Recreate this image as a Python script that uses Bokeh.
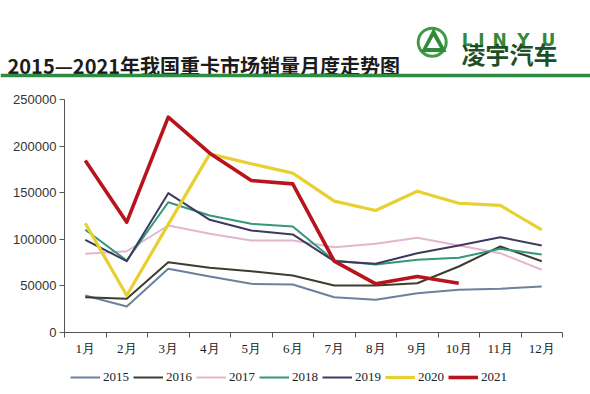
from bokeh.plotting import figure
from bokeh.models import (Range1d, FixedTicker, NumeralTickFormatter, Legend, LegendItem)
from bokeh.core.properties import value
from bokeh.embed import file_html
from bokeh.resources import INLINE

# ---------------- data ----------------
months = list(range(1, 13))
month_labels = ["1月", "2月", "3月", "4月", "5月", "6月", "7月", "8月", "9月", "10月", "11月", "12月"]
y_ticks = [0, 50000, 100000, 150000, 200000, 250000]

s2015 = [39700, 27900, 68300, 60100, 52200, 51500, 37900, 35100, 42200, 45800, 46900, 49400]
s2016 = [37900, 36100, 75400, 69400, 65800, 61100, 50400, 50400, 52900, 70800, 92300, 76500]
s2017 = [84400, 87200, 114800, 105900, 98700, 98700, 91500, 95200, 101600, 93400, 85100, 67300]
s2018 = [110200, 77200, 139800, 125500, 116600, 113700, 77200, 73000, 78000, 80100, 89800, 83700]
s2019 = [99500, 76500, 149500, 120900, 109400, 105200, 76500, 73700, 85100, 93400, 102300, 93400]
s2020 = [117300, 39700, 116000, 191700, 181000, 171000, 140900, 130900, 151600, 138700, 136300, 110200]
s2021 = [184600, 118400, 231000, 192400, 163100, 159500, 76500, 52200, 60100, 52900]

series_names = ["2015", "2016", "2017", "2018", "2019", "2020", "2021"]
series_values = [s2015, s2016, s2017, s2018, s2019, s2020, s2021]
series_colors = ["#6b819c", "#3b3d2f", "#e2b6cd", "#33977a", "#3e3a5e", "#e8d030", "#b8141d"]
series_widths = [2, 2, 2, 2, 2, 3.2, 3.6]

title_text = "2015—2021年我国重卡市场销量月度走势图"
brand_en = ["L", "I", "N", "Y", "U"]
brand_cn = "凌宇汽车"

# ---------------- layout geometry (page pixels) ----------------
W, H = 590, 394
FL, FR, FT, FB = 64, 562, 99, 332          # where the axes sit
XMIN, XMAX, YMIN, YMAX = 0.5, 12.5, 0, 250000
PX_X = (FR - FL) / (XMAX - XMIN)
PX_Y = (FB - FT) / (YMAX - YMIN)


def dx(fx):
    return XMIN + (fx - FL) / PX_X


def dy(fy):
    return YMIN + (FB - fy) / PX_Y


p = figure(width=W, height=H, x_range=Range1d(dx(0), dx(W)), y_range=Range1d(dy(H), dy(0)),
           output_backend="svg", toolbar_location=None, min_border=0,
           outline_line_color=None)
p.grid.visible = False

renderers = []
for name, vals, col, lw in zip(series_names, series_values, series_colors, series_widths):
    r = p.line(months[:len(vals)], vals, line_color=col, line_width=lw, line_join="round")
    renderers.append((name, r))

xa = p.xaxis[0]
xa.fixed_location = YMIN
xa.bounds = (XMIN, XMAX)
xa.ticker = FixedTicker(ticks=months, minor_ticks=[m - 0.5 for m in months] + [12.5])
xa.major_label_overrides = {m: lab for m, lab in zip(months, month_labels)}
xa.major_tick_line_color = None
xa.major_tick_out = 5
xa.major_tick_in = 0
xa.minor_tick_out = 5
xa.minor_tick_in = 0
xa.minor_tick_line_color = "#555555"
xa.axis_line_color = "#555555"
xa.major_label_standoff = 3
xa.major_label_text_font = "Liberation Serif"
xa.major_label_text_font_size = "13px"
xa.major_label_text_color = "#222222"

ya = p.yaxis[0]
ya.fixed_location = XMIN
ya.bounds = (YMIN, YMAX)
ya.ticker = FixedTicker(ticks=y_ticks, minor_ticks=[])
ya.formatter = NumeralTickFormatter(format="0")
ya.major_tick_out = 5
ya.major_tick_in = 0
ya.major_tick_line_color = "#555555"
ya.axis_line_color = "#555555"
ya.major_label_standoff = 3
ya.major_label_text_font = "Liberation Sans"
ya.major_label_text_font_size = "13px"
ya.major_label_text_color = "#333333"

legend = Legend(items=[LegendItem(label=n, renderers=[r]) for n, r in renderers],
                orientation="horizontal", location=(70, H - 385),
                label_text_font="Liberation Serif", label_text_font_size="13px",
                label_text_color="#222222",
                glyph_width=30, glyph_height=16, label_standoff=3, spacing=4,
                padding=0, margin=0, border_line_color=None, background_fill_alpha=0)
p.add_layout(legend, "center")

# ---------------- header: title, green rule, logo ----------------
p.text(x=[dx(7)], y=[dy(65)], text=[title_text], text_font=value("Noto Sans CJK SC"),
       text_font_size="20px", text_font_style="bold", text_color="#1c1c1c",
       text_baseline="alphabetic", text_align="left")

p.quad(left=[dx(0)], right=[dx(W)], top=[dy(73.3)], bottom=[dy(76.8)],
       fill_color="#2e8b43", line_color=None)

p.scatter(x=[dx(431.7)], y=[dy(41.7)], marker="circle", size=28, fill_color=None,
          line_color="#3f9b45", line_width=3)
p.patch(x=[dx(433), dx(420.5), dx(446)], y=[dy(27.5), dy(51.5), dy(51.5)],
        fill_color="#2f8a3a", line_color=None)
p.patch(x=[dx(433), dx(426.5), dx(439.5)], y=[dy(36), dy(47.5), dy(47.5)],
        fill_color="white", line_color=None)

p.text(x=[dx(v) for v in [466.7, 481, 499, 523, 548]], y=[dy(39)] * 5, text=brand_en,
       text_font=value("DejaVu Sans"), text_font_size="17px", text_font_style="bold",
       text_color="#358a36", text_align="center", text_baseline="alphabetic")
p.text(x=[dx(461)], y=[dy(53)], text=[brand_cn], text_font=value("Noto Sans CJK SC"),
       text_font_size="24px", text_font_style="bold", text_color="#1f4f26",
       text_baseline="middle", text_align="left")

open("out.html", "w").write(file_html(p, INLINE))
